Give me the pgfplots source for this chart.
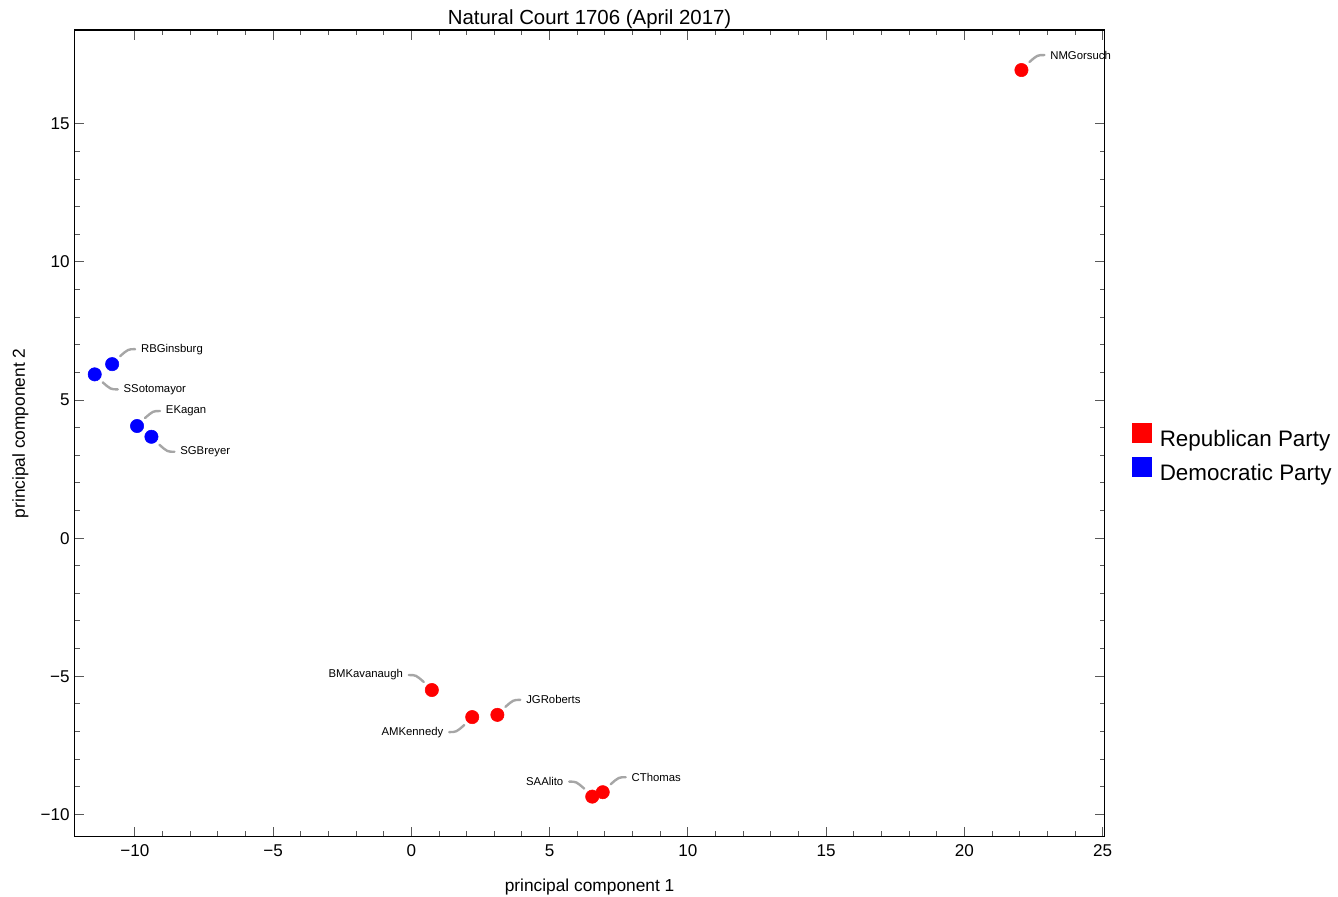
\documentclass[border=0pt]{standalone}
\usepackage{fontspec}
\setmainfont{Liberation Sans}
\usepackage{pgfplots}
\pgfplotsset{compat=1.18}
\definecolor{leadgray}{gray}{0.65}
\newcommand{\lbl}[6]{%
  \draw[leadgray, line width=1.8pt, line cap=round]
    ([shift={({#3*6pt},{#4*6pt})}]axis cs:#1,#2)
    .. controls ([shift={({#3*12pt},{#4*11.25pt})}]axis cs:#1,#2)
    .. ([shift={({#3*17.25pt},{#4*11.25pt})}]axis cs:#1,#2);
  \node[anchor=#5, inner sep=0pt, font=\fontsize{8.5}{10}\selectfont]
    at ([shift={({#3*21.5pt},{#4*11.25pt})}]axis cs:#1,#2) {#6};}
\begin{document}
\begin{tikzpicture}
\begin{axis}[
  at={(55.7pt,44.5pt)}, anchor=south west,
  scale only axis, width=773pt, height=605pt,
  xmin=-12.19, xmax=25.08, ymin=-10.81, ymax=18.40,
  clip=false,
  axis line style={black, line width=0.8pt},
  tick style={black!65, line width=0.75pt},
  major tick length=7.5pt, minor tick length=4pt,
  tick align=inside,
  minor x tick num=4, minor y tick num=4,
  xtick={-10,-5,0,5,10,15,20,25},
  xticklabels={−10,−5,0,5,10,15,20,25},
  ytick={-10,-5,0,5,10,15},
  yticklabels={−10,−5,0,5,10,15},
  /pgf/number format/assume math mode=true,
  ticklabel style={font=\fontsize{12.8}{14}\selectfont},
  xticklabel style={yshift=-2.2pt},
  title={Natural Court 1706 (April 2017)},
  title style={at={([yshift=-2.25pt]axis description cs:0.5,1)}, anchor=base, font=\fontsize{15.3}{17}\selectfont},
  xlabel={principal component 1},
  xlabel style={at={([yshift=-41.25pt]axis description cs:0.5,0)}, anchor=base, font=\fontsize{13}{15}\selectfont},
  ylabel={principal component 2},
  ylabel style={at={([xshift=-37pt]axis description cs:0,0.5)}, anchor=base, rotate=0, font=\fontsize{13}{15}\selectfont},
  legend style={draw=none, fill=none, inner sep=0pt, outer sep=0pt,
    at={(1.0265,0.5125)}, anchor=north west,
    font=\fontsize{16.8}{19}\selectfont, row sep=6.9pt,
    nodes={inner sep=0pt},
    /tikz/every odd column/.append style={column sep=6.5pt}},
  legend cell align=left,
]
\addlegendimage{legend image code/.code={\fill[red] (0pt,-2pt) rectangle (13.75pt,11.75pt);}}
\addlegendentry{Republican Party}
\addlegendimage{legend image code/.code={\fill[blue] (0pt,-2pt) rectangle (13.75pt,11.75pt);}}
\addlegendentry{Democratic Party}
\addplot[only marks, mark=*, mark size=5pt, mark options={draw=red, fill=red}, forget plot] coordinates {
  (22.06,16.95) (0.74,-5.50) (2.20,-6.48) (3.11,-6.40) (6.54,-9.36) (6.92,-9.20)
};
\addplot[only marks, mark=*, mark size=5pt, mark options={draw=blue, fill=blue}, forget plot] coordinates {
  (-10.82,6.30) (-11.45,5.93) (-9.92,4.06) (-9.40,3.67)
};
\lbl{22.06}{16.95}{1}{1}{west}{NMGorsuch}
\lbl{0.74}{-5.50}{-1}{1}{east}{BMKavanaugh}
\lbl{2.20}{-6.48}{-1}{-1}{east}{AMKennedy}
\lbl{3.11}{-6.40}{1}{1}{west}{JGRoberts}
\lbl{6.54}{-9.36}{-1}{1}{east}{SAAlito}
\lbl{6.92}{-9.20}{1}{1}{west}{CThomas}
\lbl{-10.82}{6.30}{1}{1}{west}{RBGinsburg}
\lbl{-11.45}{5.93}{1}{-1}{west}{SSotomayor}
\lbl{-9.92}{4.06}{1}{1}{west}{EKagan}
\lbl{-9.40}{3.67}{1}{-1}{west}{SGBreyer}
\end{axis}
\pgfresetboundingbox
\path[use as bounding box] (0,0) rectangle (1003.5pt,672pt);
\end{tikzpicture}
\end{document}
